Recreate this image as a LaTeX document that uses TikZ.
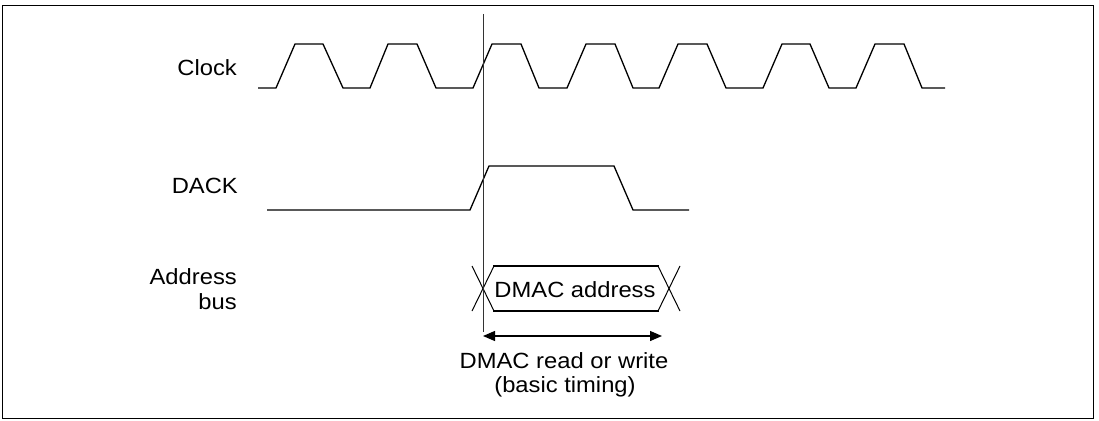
\documentclass[tikz,border=0pt]{standalone}
\usepackage{fontspec}
\setmainfont{Liberation Sans}[FakeStretch=1.08]
\usetikzlibrary{arrows.meta}
\begin{document}
\begin{tikzpicture}[x=1pt,y=-1pt,
  sig/.style={line width=1.3pt, line join=miter},
  lbl/.style={inner sep=0pt, font=\fontsize{22}{25}\selectfont},
  marker/.style={line width=0.8pt, draw=black!80},
  span/.style={line width=1.3pt, {Triangle[length=12pt,width=10pt]}-{Triangle[length=12pt,width=10pt]}}]
\useasboundingbox (0,0) rectangle (1099,420);
\draw[line width=1.3pt] (2.5,5.5) rectangle (1093.5,418.5);
% labels
\node[lbl, anchor=base east] (clk) at (237,75) {Clock};
\node[lbl, anchor=base east] (dack) at (238,193) {DACK};
\node[lbl, anchor=base east, align=right] (abus) at (237,309) {Address\\bus};
% clock
\draw[sig] (258,88) -- (276,88) -- (295,44) -- (323,44) -- (343,88) -- (370,88) -- (388,44) -- (417,44) -- (436,88) -- (473,88) -- (492,44) -- (521,44) -- (539,88) -- (567,88) -- (586,44) -- (615,44) -- (633,88) -- (659,88) -- (678,44) -- (707,44) -- (726,88) -- (763,88) -- (782,44) -- (810,44) -- (829,88) -- (856,88) -- (875,44) -- (904,44) -- (922,88) -- (945,88);
% DACK
\draw[sig] (267,210) -- (470,210) -- (489,166) -- (614,166) -- (633,210) -- (689,210);
% address bus
\draw[sig] (493,266) -- (659,266);
\draw[sig] (493,311) -- (659,311);
\draw[line width=1pt] (472,266) -- (494,311);
\draw[line width=1pt] (494,266) -- (472,311);
\draw[line width=1pt] (658,266) -- (680,311);
\draw[line width=1pt] (680,266) -- (658,311);
\node[lbl, anchor=base] (addr) at (575,297) {DMAC address};
% marker line
\coordinate (mtop) at (483,14);
\coordinate (mbot) at (483,332);
\draw[marker] (mtop) -- (mbot);
% span arrow
\coordinate (sa) at (483,336);
\coordinate (sb) at (662,336);
\draw[span] (sa) -- (sb);
\node[lbl, anchor=base] (rw) at (564,368) {DMAC read or write};
\node[lbl, anchor=base] (bt) at (565,392) {(basic timing)};
\end{tikzpicture}
\end{document}
